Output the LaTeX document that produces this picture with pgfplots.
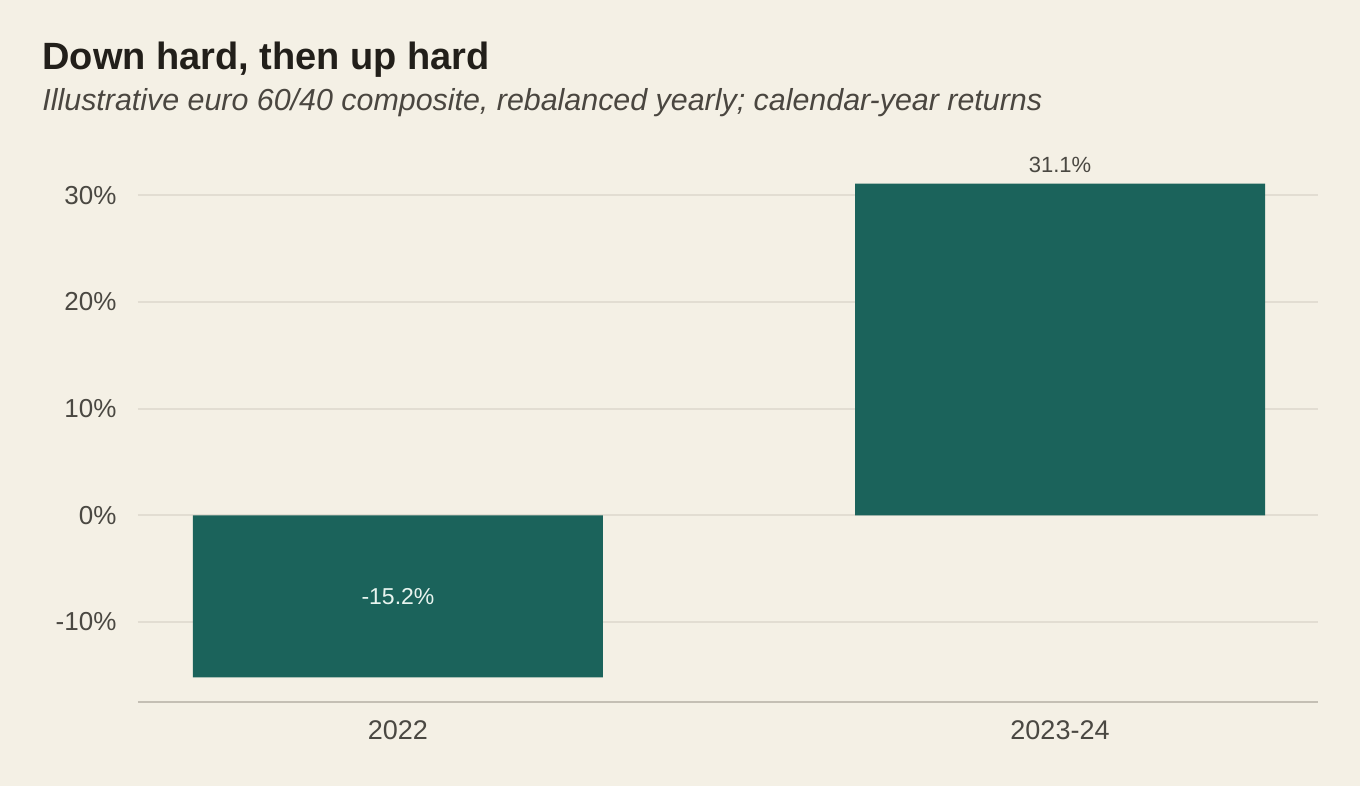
\documentclass[border=0pt]{standalone}
\usepackage{pgfplots}
\pgfplotsset{compat=1.18}
\usepackage{fontspec}
\setmainfont{Liberation Sans}

\definecolor{bgc}{RGB}{244,240,229}
\definecolor{barc}{RGB}{27,99,91}
\definecolor{titlec}{RGB}{34,31,26}
\definecolor{subc}{RGB}{74,70,64}
\definecolor{tickc}{RGB}{74,72,66}
\definecolor{gridc}{RGB}{226,221,210}
\definecolor{axisc}{RGB}{196,191,180}
\definecolor{innerc}{RGB}{232,244,239}

\begin{document}
\begin{tikzpicture}
% canvas
\path[use as bounding box, fill=bgc] (0,0) rectangle (680pt,-393pt);

% headings
\node[anchor=base west, inner sep=0pt, text=titlec, font=\fontsize{19}{23}\selectfont\bfseries]
  at (21pt,-34.8pt) {Down hard, then up hard};
\node[anchor=base west, inner sep=0pt, text=subc, font=\fontsize{15.2}{18}\selectfont\itshape]
  at (21pt,-55.3pt) {Illustrative euro 60/40 composite, rebalanced yearly; calendar-year returns};

\begin{axis}[
  at={(69pt,-351pt)}, anchor=south west,
  scale only axis,
  width=590pt, height=269.33pt,
  xmin=-0.3927, xmax=1.3897,
  ymin=-17.5, ymax=33,
  clip=false,
  axis x line*=bottom, axis y line*=left,
  x axis line style={draw=axisc, line width=1pt},
  y axis line style={draw=none},
  major tick length=0pt,
  xtick={0,1}, xticklabels={2022,2023-24},
  ytick={-10,0,10,20,30},
  yticklabels={-10\%,0\%,10\%,20\%,30\%},
  ymajorgrids, grid style={draw=gridc, line width=1pt},
  xticklabel style={anchor=base, inner sep=0pt, yshift=-18.75pt, text=tickc,
    font=\fontsize{13.5}{15}\selectfont},
  yticklabel style={anchor=east, inner sep=0pt, xshift=-10.6pt, text=tickc,
    font=\fontsize{13}{15}\selectfont},
]
\addplot[ybar, bar width=205pt, bar shift=0pt, fill=barc, draw=none]
  coordinates {(0,-15.2) (1,31.1)};

% value labels
\node[anchor=base, inner sep=0pt, yshift=5.5pt, text=tickc, font=\fontsize{11}{13}\selectfont]
  at (axis cs:1,31.1) {31.1\%};
\node[anchor=center, inner sep=0pt, text=innerc, font=\fontsize{11.5}{13}\selectfont]
  at (axis cs:0,-7.6) {-15.2\%};
\end{axis}
\end{tikzpicture}
\end{document}
